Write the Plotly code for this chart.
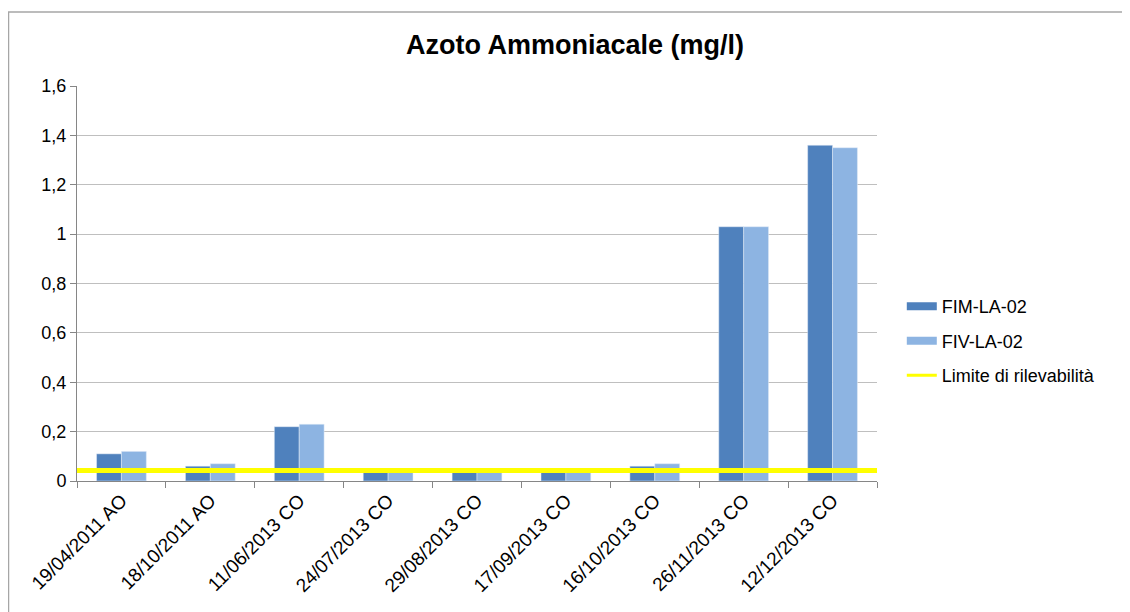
import plotly.graph_objects as go

# dati
dates = ["19/04/2011 AO", "18/10/2011 AO", "11/06/2013 CO", "24/07/2013 CO",
         "29/08/2013 CO", "17/09/2013 CO", "16/10/2013 CO", "26/11/2013 CO",
         "12/12/2013 CO"]
fim = [0.11, 0.06, 0.22, 0.04, 0.04, 0.04, 0.06, 1.03, 1.36]
fiv = [0.12, 0.07, 0.23, 0.04, 0.04, 0.04, 0.07, 1.03, 1.35]
limite = 0.043

names = ["FIM-LA-02", "FIV-LA-02", "Limite di rilevabilità"]
colors = ["#4F81BD", "#8DB4E2", "#FFFF00"]

# page body has an 8px margin, so the figure is a bit smaller than the window
W, H = 1122, 604

fig = go.Figure()

# bars
fig.add_trace(go.Bar(x=dates, y=fim, name=names[0], marker_color=colors[0],
                     showlegend=False, legendgroup="a"))
fig.add_trace(go.Bar(x=dates, y=fiv, name=names[1], marker_color=colors[1],
                     showlegend=False, legendgroup="b"))

# limit line on an overlaying linear axis so it spans the whole plot width
fig.add_trace(go.Scatter(x=[0, 1], y=[limite, limite], mode="lines",
                         line=dict(color=colors[2], width=5), xaxis="x2",
                         showlegend=False, legendgroup="c", hoverinfo="skip"))

# legend keys (Excel style wide rectangles)
for name, color, w, grp in zip(names, colors, [8, 8, 3], ["a", "b", "c"]):
    fig.add_trace(go.Scatter(x=[None], y=[None], mode="lines", name=name,
                             line=dict(color=color, width=w), legendgroup=grp))

fig.update_layout(
    width=W, height=H,
    margin=dict(l=69, r=253, t=78, b=131),
    paper_bgcolor="white", plot_bgcolor="white",
    font=dict(family="Liberation Sans, Arial", size=18, color="#000000"),
    separators=",.",
    barmode="group", bargap=0.44, bargroupgap=0,
    title=dict(text="<b>Azoto Ammoniacale (mg/l)</b>", x=0.6225, xref="paper",
               xanchor="center", y=1 - 37 / H, yanchor="middle",
               font=dict(size=27, family="Liberation Sans, Arial")),
    showlegend=True,
    legend=dict(x=1.031, y=0.354, xanchor="left", yanchor="middle",
                font=dict(size=18), tracegroupgap=8, itemwidth=30,
                bgcolor="rgba(0,0,0,0)"),
    xaxis=dict(type="category", tickangle=-45, ticks="outside", ticklen=6,
               tickson="boundaries", tickcolor="#868686", showline=True,
               linecolor="#868686", linewidth=1, showgrid=False,
               tickfont=dict(size=19)),
    xaxis2=dict(overlaying="x", range=[0, 1], visible=False),
    yaxis=dict(range=[0, 1.6], dtick=0.2, ticks="outside", ticklen=6,
               tickcolor="#868686", showline=True, linecolor="#868686",
               linewidth=1, gridcolor="#BFBFBF", gridwidth=1, zeroline=False,
               tickfont=dict(size=18)),
)

# chart border (Excel chart area frame)
fig.add_shape(type="rect", xref="paper", yref="paper",
              x0=(0.5 - 69) / 800, x1=(1140 - 69) / 800,
              y0=(473 - 620) / 395, y1=(473 - 4) / 395,
              line=dict(color="#A6A6A6", width=1.5), layer="below")

fig.write_html("out.html")
